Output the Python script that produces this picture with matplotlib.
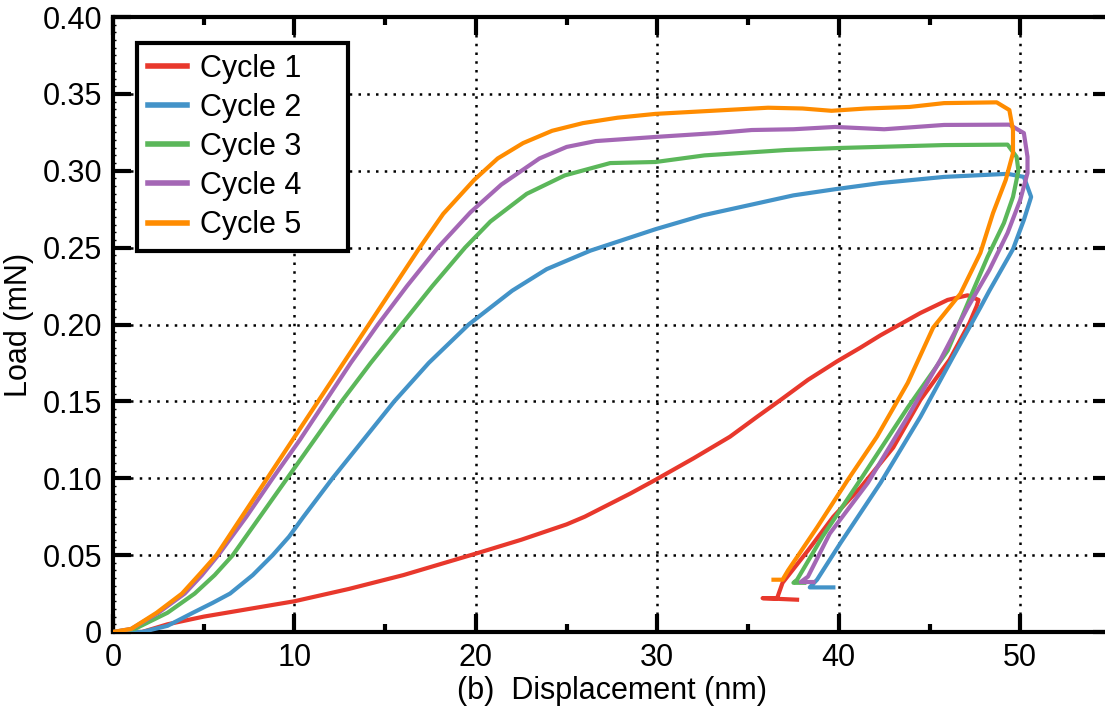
import matplotlib
matplotlib.use("Agg")
import matplotlib.pyplot as plt
from matplotlib.ticker import MultipleLocator, FuncFormatter

plt.rcParams["font.family"] = ["Liberation Sans", "DejaVu Sans"]

# displacement (nm) / load (mN), loading then unloading
c1_d = [0, 1.6, 3, 5, 7.5, 10, 13, 16, 18, 20, 22.5, 25, 26, 27, 28.5, 29.9, 32, 34, 35.5, 36.8,
        38.3, 39.9, 41.2, 42.3, 44.5, 46.0, 47.1, 47.7,
        47.6, 47.2, 46.1, 44.5, 43.0, 41.2, 39.7, 38.3, 36.9, 36.6, 35.8, 37.7]
c1_l = [0, 0.0, 0.005, 0.010, 0.015, 0.020, 0.028, 0.037, 0.044, 0.051, 0.060, 0.070, 0.075,
        0.081, 0.090, 0.099, 0.113, 0.127, 0.140, 0.151, 0.164, 0.176, 0.185, 0.193, 0.2075,
        0.216, 0.219, 0.216,
        0.212, 0.201, 0.177, 0.151, 0.120, 0.094, 0.075, 0.053, 0.032, 0.022, 0.022, 0.021]

c2_d = [0, 1.6, 3, 4.4, 5.5, 6.45, 7.7, 8.8, 9.7, 10.5, 12.1, 13.8, 15.5, 17.4, 19.6, 22.0,
        23.9, 26.3, 29.9, 32.5, 35.2, 37.5, 39.8, 42.3, 45.8, 49.3, 50.2,
        50.6, 50.2, 49.6, 48.3, 47.8, 46.3, 44.5, 42.3, 40.1, 38.8, 38.4, 39.7]
c2_l = [0, 0.0, 0.004, 0.0125, 0.019, 0.025, 0.037, 0.050, 0.062, 0.075, 0.100, 0.125, 0.150,
        0.175, 0.200, 0.222, 0.236, 0.248, 0.262, 0.271, 0.278, 0.284, 0.288, 0.292, 0.296,
        0.298, 0.296,
        0.283, 0.268, 0.249, 0.222, 0.211, 0.179, 0.140, 0.097, 0.058, 0.034, 0.029, 0.029]

c3_d = [0, 1.2, 3.0, 4.5, 5.6, 6.6, 8.1, 9.6, 11.1, 12.6, 14.2, 15.9, 17.6, 19.4, 20.8, 22.8,
        24.9, 27.4, 29.9, 32.6, 37.1, 40, 45.8, 49.3, 49.8,
        49.9, 49.6, 49.1, 48.2, 47.4, 46.0, 43.8, 41.3, 39.1, 37.7, 37.5, 38.1]
c3_l = [0, 0.002, 0.0125, 0.025, 0.037, 0.050, 0.075, 0.100, 0.125, 0.150, 0.175, 0.200, 0.225,
        0.250, 0.267, 0.285, 0.297, 0.305, 0.3057, 0.310, 0.3135, 0.3148, 0.3167, 0.317, 0.309,
        0.300, 0.283, 0.266, 0.244, 0.222, 0.183, 0.146, 0.101, 0.062, 0.034, 0.032, 0.032]

c4_d = [0, 1, 2.5, 3.95, 4.9, 5.8, 7.35, 8.8, 10.3, 11.7, 13.1, 14.6, 16.2, 17.9, 19.7, 21.4,
        23.5, 25, 26.6, 29.9, 33.2, 35.2, 37.5, 39.8, 42.5, 45.8, 49.4, 50.2,
        50.4, 50.4, 50.0, 49.3, 48.3, 47.1, 45.6, 43.8, 41.6, 39.5, 38.3, 37.9, 38.6]
c4_l = [0, 0.002, 0.0125, 0.025, 0.037, 0.050, 0.075, 0.100, 0.125, 0.150, 0.175, 0.200, 0.225,
        0.250, 0.273, 0.291, 0.308, 0.3155, 0.3193, 0.322, 0.3245, 0.3265, 0.327, 0.3285,
        0.327, 0.3298, 0.330, 0.3245,
        0.309, 0.2985, 0.281, 0.2595, 0.2355, 0.211, 0.177, 0.140, 0.097, 0.064, 0.036,
        0.0325, 0.0325]

c5_d = [0, 1.0, 2.4, 3.8, 4.8, 5.7, 7.1, 8.5, 9.9, 11.3, 12.7, 14.1, 15.5, 16.9, 18.2, 19.9,
        21.2, 22.6, 24.2, 25.9, 27.8, 29.9, 33, 36.1, 38, 39.6, 41.5, 43.9, 45.8, 48.7, 49.4,
        49.6, 49.6, 49.2, 48.5, 47.8, 46.7, 45.2, 43.8, 42.1, 40.5, 38.8, 37.2, 36.9, 36.4]
c5_l = [0, 0.002, 0.0125, 0.025, 0.038, 0.050, 0.075, 0.100, 0.125, 0.150, 0.175, 0.200, 0.225,
        0.250, 0.272, 0.294, 0.308, 0.318, 0.326, 0.331, 0.3345, 0.337, 0.339, 0.341, 0.3405,
        0.339, 0.3405, 0.3415, 0.344, 0.3445, 0.3395,
        0.3265, 0.3115, 0.294, 0.2725, 0.2465, 0.220, 0.198, 0.162, 0.127, 0.099, 0.068,
        0.040, 0.034, 0.034]

labels = ["Cycle 1", "Cycle 2", "Cycle 3", "Cycle 4", "Cycle 5"]
colors = ["#e8382c", "#4393c8", "#5bb75a", "#a467b5", "#ff8c00"]
series = [(c1_d, c1_l), (c2_d, c2_l), (c3_d, c3_l), (c4_d, c4_l), (c5_d, c5_l)]

fig = plt.figure(figsize=(11.05, 7.15), dpi=100)
ax = fig.add_axes([0.1023, 0.1161, 0.9031, 0.8601])

for (d, l), lab, col in zip(series, labels, colors):
    ax.plot(d, l, color=col, lw=3, label=lab, solid_joinstyle="round", zorder=3)

ax.set_xlim(0, 55)
ax.set_ylim(0, 0.40)
ax.xaxis.set_major_locator(MultipleLocator(10))
ax.xaxis.set_minor_locator(MultipleLocator(5))
ax.yaxis.set_major_locator(MultipleLocator(0.05))
ax.yaxis.set_minor_locator(MultipleLocator(0.005))
ax.yaxis.set_major_formatter(FuncFormatter(lambda v, p: "0" if abs(v) < 1e-9 else f"{v:.2f}"))
ax.xaxis.set_major_formatter(FuncFormatter(lambda v, p: f"{v:.0f}"))

ax.grid(True, which="major", color="black", linestyle=(0, (1, 2.5)), linewidth=1.8, zorder=1)
ax.set_axisbelow(True)

for s in ax.spines.values():
    s.set_linewidth(3)
ax.tick_params(which="major", direction="in", length=13, width=3, top=True, right=True,
               labelsize=22, pad=8)
ax.tick_params(axis="x", which="minor", direction="in", length=6, width=3, top=True)
ax.tick_params(axis="y", which="minor", direction="in", length=2.5, width=1, right=True)

ax.set_xlabel("(b)  Displacement (nm)", fontsize=22, labelpad=2)
ax.set_ylabel("Load (mN)", fontsize=22, labelpad=6)

leg = ax.legend(loc="upper left", bbox_to_anchor=(0.024, 0.5, 0.2114, 0.458), mode="expand",
                fontsize=22, frameon=True, fancybox=False, edgecolor="black", framealpha=1,
                handlelength=1.3, handletextpad=0.4, labelspacing=0.3,
                borderpad=0.35, borderaxespad=0)
leg.get_frame().set_linewidth(3)
for h in leg.get_lines():
    h.set_linewidth(4)

fig.savefig("out.png", dpi=100)
